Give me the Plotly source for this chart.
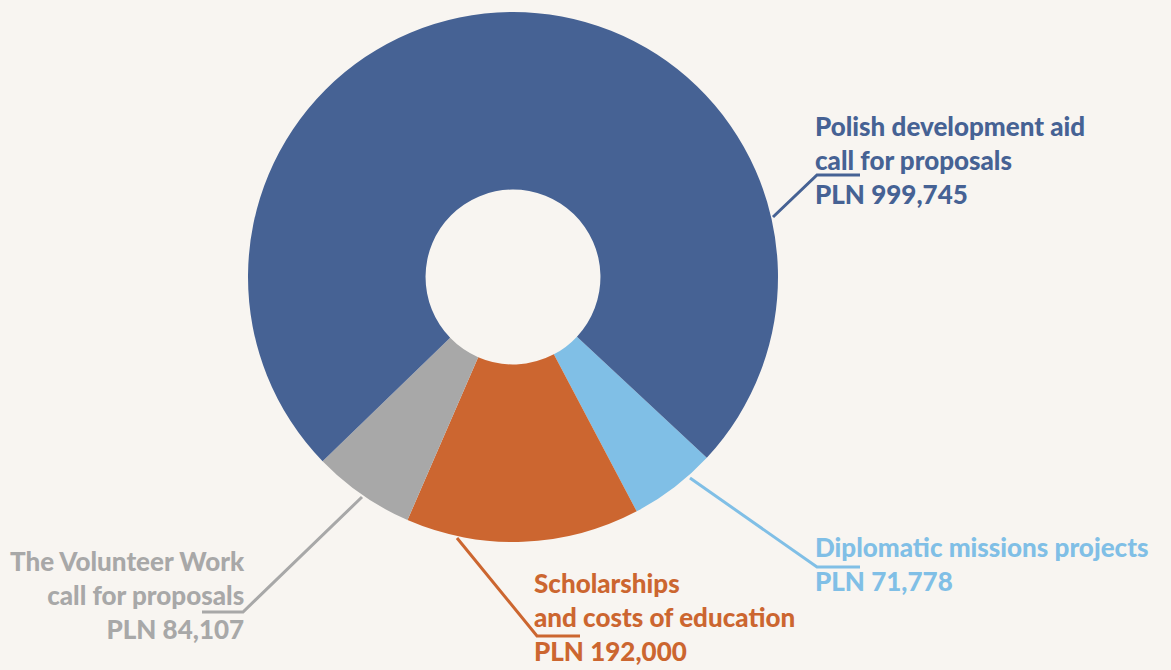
import plotly.graph_objects as go

W, H = 1171, 670

labels = ["Diplomatic missions projects", "Scholarships and costs of education",
          "The Volunteer Work call for proposals", "Polish development aid call for proposals"]
values = [71778, 192000, 84107, 999745]
colors = ["#80bfe6", "#cc6630", "#a8a8a8", "#466294"]
label_text = [
    "Diplomatic missions projects<br>PLN 71,778",
    "Scholarships<br>and costs of education<br>PLN 192,000",
    "The Volunteer Work<br>call for proposals<br>PLN 84,107",
    "Polish development aid<br>call for proposals<br>PLN 999,745",
]


def px(x):
    return x / W


def py(y):
    return 1 - y / H


# donut centre and radius in pixels
cx, cy, r = 513, 277, 265

fig = go.Figure(go.Pie(
    labels=labels, values=values, sort=False, direction="clockwise",
    rotation=133, hole=0.33, textinfo="none", hoverinfo="label+value",
    marker=dict(colors=colors, line=dict(width=0)),
    domain=dict(x=[px(cx - r), px(cx + r)], y=[py(cy + r), py(cy - r)]),
    showlegend=False,
))

# leader lines (pixel points) and label anchors
leaders = [
    [(690, 478), (817, 567), (860, 567)],
    [(457, 538), (537, 636), (580, 636)],
    [(362, 497), (243, 612), (202, 612)],
    [(773, 217), (817, 175), (860, 175)],
]
anchors = [
    (814, 530, "left"),
    (533, 566, "left"),
    (246, 544, "right"),
    (814, 109, "left"),
]

for pts, col in zip(leaders, colors):
    path = "M " + " L ".join(f"{px(x)},{py(y)}" for x, y in pts)
    fig.add_shape(type="path", path=path, xref="paper", yref="paper",
                  line=dict(color=col, width=3))

for (x, y, al), txt, col in zip(anchors, label_text, colors):
    fig.add_annotation(x=px(x), y=py(y), xref="paper", yref="paper",
                       text=txt, showarrow=False, align=al,
                       xanchor=al, yanchor="top", borderpad=0,
                       font=dict(family="Lato", size=26, color=col, weight=900))

fig.update_layout(width=W, height=H, margin=dict(l=0, r=0, t=0, b=0),
                  paper_bgcolor="#f8f5f1", plot_bgcolor="#f8f5f1")
fig.write_html("out.html", config={"displayModeBar": False},
               post_script="document.body.style.margin='0';")
